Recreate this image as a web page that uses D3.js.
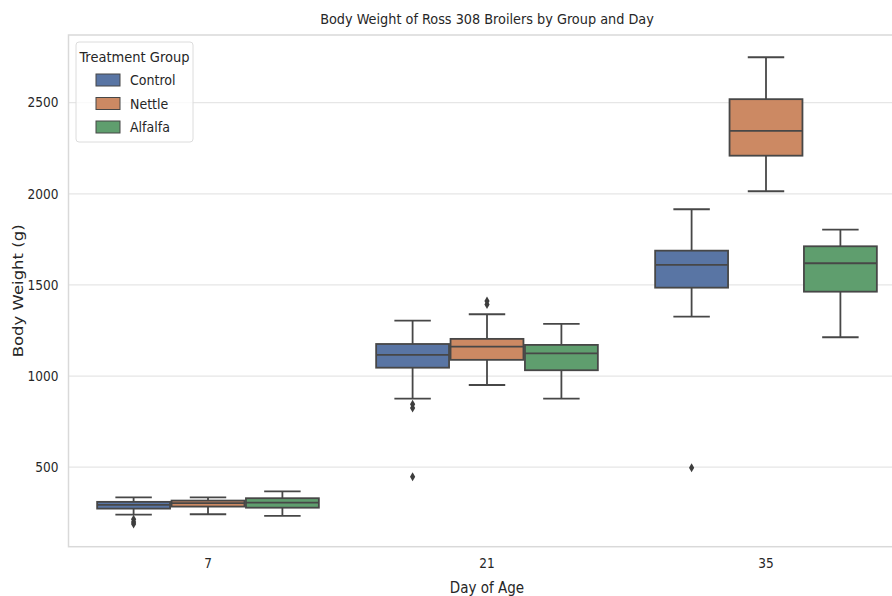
<!DOCTYPE html>
<html lang="en">
<head>
<meta charset="UTF-8">
<title>Body Weight of Ross 308 Broilers</title>
<script src="https://cdn.jsdelivr.net/npm/d3@7"></script>
<style>
  body { margin: 0; background: #fff; }
  svg text { font-family: "DejaVu Sans Condensed", "DejaVu Sans", sans-serif; font-stretch: condensed; fill: #262626; }
  .grid line { stroke: #e6e6e6; stroke-width: 1.2; }
  .frame { fill: none; stroke: #d9d9d9; stroke-width: 1.5; }
</style>
</head>
<body>
<svg width="892" height="596"></svg>
<script>
// data (grams), rows = group, columns = day
var days = ["7", "21", "35"];
var groups = ["Control", "Nettle", "Alfalfa"];
var colors = ["#5975a4", "#cc8963", "#5f9e6e"];

var whiskLow  = [[240, 876, 1326], [242, 951, 2014], [233, 876, 1213]];
var q1        = [[273, 1046, 1485], [284, 1089, 2209], [278, 1032, 1463]];
var medians   = [[293, 1116, 1610], [303, 1162, 2345], [306, 1125, 1619]];
var q3        = [[310, 1176, 1688], [317, 1204, 2519], [330, 1171, 1712]];
var whiskHigh = [[335, 1304, 1915], [335, 1339, 2749], [368, 1286, 1803]];
var fliers    = [[[215, 200, 188], [845, 825, 448], [497]], [[], [1392, 1412], []], [[], [], []]];

var yTicks = [500, 1000, 1500, 2000, 2500];

var svg = d3.select("svg");
var mLeft = 68.5, mRight = 905.5, mTop = 35, mBottom = 546.7;

var x = d3.scaleBand().domain(days).range([mLeft, mRight]);
var xg = d3.scaleBand().domain(groups).range([0, x.bandwidth() * 0.8]);
var y = d3.scaleLinear().domain([64, 2871]).range([mBottom, mTop]);
var bw = xg.bandwidth() * 0.98;
var lineCol = "#474747";

// grid
svg.append("g").attr("class", "grid")
  .selectAll("line").data(yTicks).enter().append("line")
  .attr("x1", mLeft).attr("x2", mRight)
  .attr("y1", function(d) { return y(d); })
  .attr("y2", function(d) { return y(d); });

svg.append("rect").attr("class", "frame")
  .attr("x", mLeft).attr("y", mTop)
  .attr("width", mRight - mLeft).attr("height", mBottom - mTop);

// y axis
var yAxis = svg.append("g").attr("transform", "translate(" + mLeft + ",0)")
  .call(d3.axisLeft(y).tickValues(yTicks).tickFormat(d3.format("d")).tickSize(0).tickPadding(10));
yAxis.select(".domain").remove();
yAxis.selectAll("text").attr("font-size", 13.5);
yAxis.attr("font-family", null);

// x axis
var xAxis = svg.append("g").attr("transform", "translate(0," + mBottom + ")")
  .call(d3.axisBottom(x).tickSize(0).tickPadding(12));
xAxis.select(".domain").remove();
xAxis.selectAll("text").attr("font-size", 13.5);
xAxis.attr("font-family", null);

// boxes
var boxes = [];
groups.forEach(function(g, gi) {
  days.forEach(function(d, di) {
    boxes.push({ g: g, gi: gi, d: d, di: di });
  });
});

var bx = svg.append("g").selectAll("g").data(boxes).enter().append("g")
  .attr("transform", function(b) {
    var cx = x(b.d) + x.bandwidth() * 0.1 + xg(b.g) + xg.bandwidth() / 2;
    return "translate(" + cx + ",0)";
  });

// whiskers
bx.append("line")
  .attr("x1", 0).attr("x2", 0)
  .attr("y1", function(b) { return y(whiskLow[b.gi][b.di]); })
  .attr("y2", function(b) { return y(q1[b.gi][b.di]); })
  .attr("stroke", lineCol).attr("stroke-width", 1.8);
bx.append("line")
  .attr("x1", 0).attr("x2", 0)
  .attr("y1", function(b) { return y(q3[b.gi][b.di]); })
  .attr("y2", function(b) { return y(whiskHigh[b.gi][b.di]); })
  .attr("stroke", lineCol).attr("stroke-width", 1.8);
[whiskLow, whiskHigh].forEach(function(arr) {
  bx.append("line")
    .attr("x1", -bw / 4).attr("x2", bw / 4)
    .attr("y1", function(b) { return y(arr[b.gi][b.di]); })
    .attr("y2", function(b) { return y(arr[b.gi][b.di]); })
    .attr("stroke", lineCol).attr("stroke-width", 1.8);
});

bx.append("rect")
  .attr("x", -bw / 2).attr("width", bw)
  .attr("y", function(b) { return y(q3[b.gi][b.di]); })
  .attr("height", function(b) { return y(q1[b.gi][b.di]) - y(q3[b.gi][b.di]); })
  .attr("fill", function(b) { return colors[b.gi]; })
  .attr("stroke", lineCol).attr("stroke-width", 1.8);

bx.append("line")
  .attr("x1", -bw / 2).attr("x2", bw / 2)
  .attr("y1", function(b) { return y(medians[b.gi][b.di]); })
  .attr("y2", function(b) { return y(medians[b.gi][b.di]); })
  .attr("stroke", lineCol).attr("stroke-width", 1.8);

// outliers (diamonds)
bx.selectAll("path.flier")
  .data(function(b) { return fliers[b.gi][b.di]; })
  .enter().append("path")
  .attr("class", "flier")
  .attr("d", function(v) {
    var cy = y(v);
    return "M0," + (cy - 4.5) + "L2.6," + cy + "L0," + (cy + 4.5) + "L-2.6," + cy + "Z";
  })
  .attr("fill", "#3d3d3d");

// titles
svg.append("text").attr("x", (mLeft + mRight) / 2).attr("y", 24)
  .attr("text-anchor", "middle").attr("font-size", 14.3)
  .text("Body Weight of Ross 308 Broilers by Group and Day");
svg.append("text").attr("x", (mLeft + mRight) / 2).attr("y", 593)
  .attr("text-anchor", "middle").attr("font-size", 15)
  .text("Day of Age");
svg.append("text")
  .attr("transform", "translate(23," + ((mTop + mBottom) / 2) + ") rotate(-90) scale(1,0.85)")
  .attr("text-anchor", "middle").attr("font-size", 16.5)
  .style("font-family", "'DejaVu Sans', sans-serif").style("font-stretch", "normal")
  .text("Body Weight (g)");

// legend
var lg = svg.append("g").attr("transform", "translate(76,42)");
lg.append("rect").attr("width", 117).attr("height", 100).attr("rx", 3)
  .attr("fill", "#fff").attr("fill-opacity", 0.8)
  .attr("stroke", "#dcdcdc");
lg.append("text").attr("x", 58.5).attr("y", 20).attr("text-anchor", "middle")
  .attr("font-size", 14.5).text("Treatment Group");
var items = lg.selectAll("g.item").data(groups).enter().append("g")
  .attr("transform", function(d, i) { return "translate(0," + (38 + i * 23.5) + ")"; });
items.append("rect").attr("x", 20).attr("y", -6).attr("width", 24).attr("height", 12)
  .attr("fill", function(d, i) { return colors[i]; })
  .attr("stroke", lineCol).attr("stroke-width", 1);
items.append("text").attr("x", 54).attr("y", 5).attr("font-size", 14)
  .text(function(d) { return d; });
</script>
</body>
</html>
